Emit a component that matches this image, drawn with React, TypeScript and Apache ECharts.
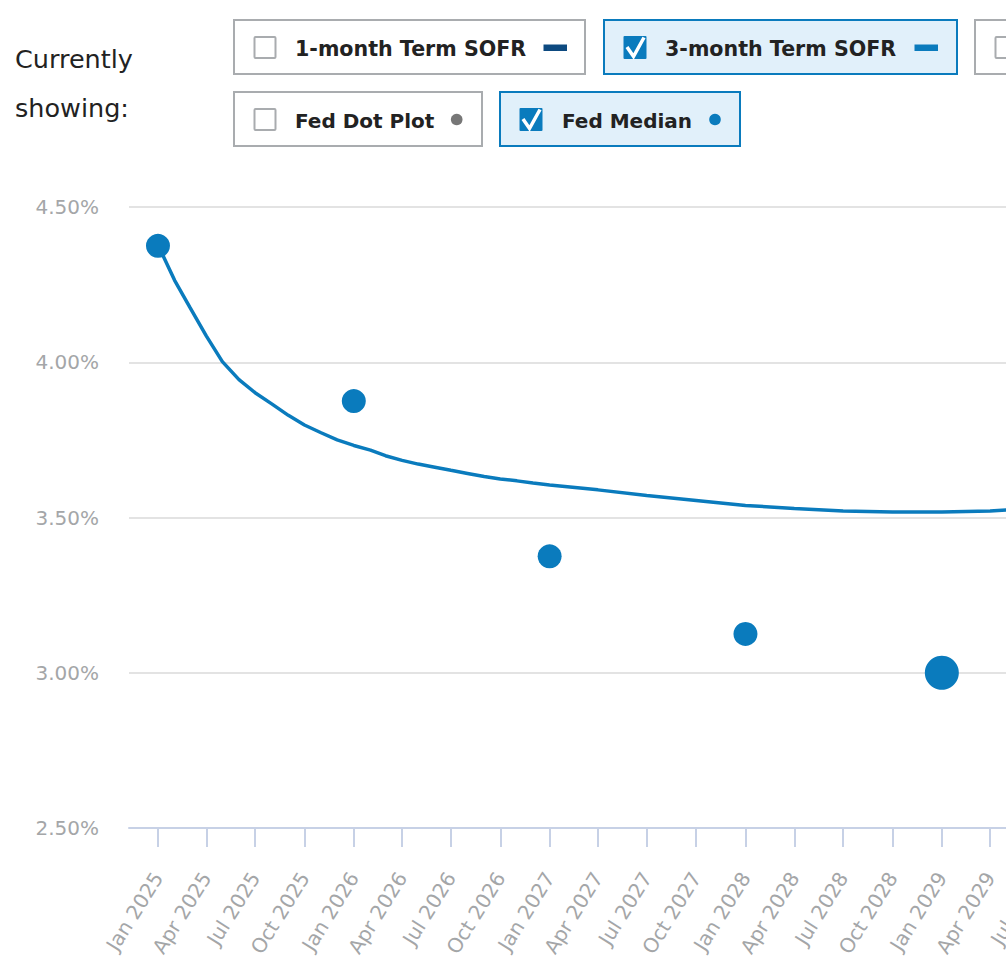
import React, { useEffect, useRef } from 'react';
import * as echarts from 'echarts';

// 3-month Term SOFR forward curve (percent), first of each month
const sofrMonths = [
  '2025-01', '2025-02', '2025-03', '2025-04', '2025-05', '2025-06', '2025-07', '2025-08',
  '2025-09', '2025-10', '2025-11', '2025-12', '2026-01', '2026-02', '2026-03', '2026-04',
  '2026-05', '2026-06', '2026-07', '2026-08', '2026-09', '2026-10', '2026-11', '2026-12',
  '2027-01', '2027-04', '2027-07', '2027-10', '2028-01', '2028-04', '2028-07', '2028-10',
  '2029-01', '2029-04', '2029-05', '2029-07',
];
const sofr3m = [
  4.378, 4.264, 4.178, 4.085, 4.002, 3.944, 3.902, 3.866,
  3.829, 3.798, 3.773, 3.750, 3.732, 3.717, 3.699, 3.684,
  3.672, 3.662, 3.652, 3.642, 3.632, 3.624, 3.618, 3.611,
  3.605, 3.589, 3.571, 3.555, 3.539, 3.529, 3.521, 3.518,
  3.518, 3.521, 3.524, 3.530,
];

// Fed median projections (percent)
const medianMonths = ['2025-01', '2026-01', '2027-01', '2028-01', '2029-01'];
const medianLabels = ['Current', '2025', '2026', '2027', 'Longer run'];
const fedMedian = [4.375, 3.875, 3.375, 3.125, 3.0];

// x-axis tick labels (quarter starts)
const tickMonths = [
  '2025-01', '2025-04', '2025-07', '2025-10', '2026-01', '2026-04', '2026-07', '2026-10',
  '2027-01', '2027-04', '2027-07', '2027-10', '2028-01', '2028-04', '2028-07', '2028-10',
  '2029-01', '2029-04', '2029-07',
];
const monthNames = ['Jan', 'Feb', 'Mar', 'Apr', 'May', 'Jun', 'Jul', 'Aug', 'Sep', 'Oct', 'Nov', 'Dec'];

// axis ranges
const xStart = '2024-11-08';
const xEnd = '2029-10-01';
const yMin = 2.5;
const yMax = 4.5;
const yStep = 0.5;

const legendRow1 = [
  { text: '1-month Term SOFR', checked: false, kind: 'dash', color: '#0d4a80' },
  { text: '3-month Term SOFR', checked: true, kind: 'dash', color: '#0a7bbd' },
];
const legendRow2 = [
  { text: 'Fed Dot Plot', checked: false, kind: 'dot', color: '#777777' },
  { text: 'Fed Median', checked: true, kind: 'dot', color: '#0a7bbd' },
];

const DAY = 86400000;
const EPOCH = Date.UTC(2025, 0, 1);
// convert 'YYYY-MM' or 'YYYY-MM-DD' to days since 1 Jan 2025
const toDay = (s: string) => {
  const p = s.split('-').map(Number);
  return Math.round((Date.UTC(p[0], p[1] - 1, p[2] || 1) - EPOCH) / DAY);
};
const dayLabel = (d: number) => {
  const dt = new Date(EPOCH + Math.round(d) * DAY);
  return monthNames[dt.getUTCMonth()] + ' ' + dt.getUTCFullYear();
};

const BLUE = '#0a7bbd';
const FONT = 'DejaVu Sans';

function legendBox(x: number, y: number, w: number, item: any, textX: number, markX: number, fs: number): any[] {
  const h = 54;
  const els: any[] = [];
  els.push({
    type: 'rect',
    shape: { x, y, width: w, height: h },
    style: {
      fill: item.checked ? '#e1f0fa' : '#ffffff',
      stroke: item.checked ? BLUE : '#a9acaf',
      lineWidth: 2,
    },
  });
  const cbY = y + 16;
  if (item.checked) {
    els.push({
      type: 'rect',
      shape: { x: x + 19.5, y: cbY, width: 23, height: 23, r: 1 },
      style: { fill: BLUE },
    });
    els.push({
      type: 'polyline',
      shape: {
        points: [
          [x + 23, cbY + 11],
          [x + 29.5, cbY + 20.5],
          [x + 40, cbY + 1.5],
        ],
      },
      style: { stroke: '#ffffff', lineWidth: 3.5, fill: 'none' },
    });
  } else {
    els.push({
      type: 'rect',
      shape: { x: x + 20.5, y: cbY + 1, width: 21, height: 21, r: 1 },
      style: { fill: '#ffffff', stroke: '#a9acaf', lineWidth: 2 },
    });
  }
  if (item.text) {
    els.push({
      type: 'text',
      x: textX,
      y: y + 29,
      style: {
        text: item.text,
        fontFamily: FONT,
        fontWeight: 'bold',
        fontSize: fs,
        fill: '#222222',
        verticalAlign: 'middle',
      },
    });
  }
  if (item.kind === 'dash') {
    els.push({
      type: 'rect',
      shape: { x: markX, y: y + 24.5, width: 23.5, height: 6.5 },
      style: { fill: item.color },
    });
  } else if (item.kind === 'dot') {
    els.push({
      type: 'circle',
      shape: { cx: markX, cy: y + 27.5, r: 5.8 },
      style: { fill: item.color },
    });
  }
  return els;
}

export default function App() {
  const ref = useRef<HTMLDivElement>(null);

  useEffect(() => {
    if (!ref.current) return;
    const chart = echarts.init(ref.current, undefined, { renderer: 'svg' });

    const tickValues = tickMonths.map(toDay);
    const graphicEls: any[] = [
      {
        type: 'text',
        x: 15,
        y: 59,
        style: { text: 'Currently', fontFamily: FONT, fontSize: 25.5, fill: '#222222', verticalAlign: 'middle' },
      },
      {
        type: 'text',
        x: 15,
        y: 108,
        style: { text: 'showing:', fontFamily: FONT, fontSize: 25.5, fill: '#222222', verticalAlign: 'middle' },
      },
      ...legendBox(234, 20, 351, legendRow1[0], 295, 543.5, 20.6),
      ...legendBox(604, 20, 353, legendRow1[1], 665, 914.5, 20.6),
      ...legendBox(975, 20, 330, { text: '', checked: false, kind: 'none', color: '' }, 0, 0, 20),
      ...legendBox(234, 92, 248, legendRow2[0], 295, 456.7, 20),
      ...legendBox(500, 92, 240, legendRow2[1], 562, 715, 20),
    ];

    chart.setOption({
      animation: false,
      grid: { left: 129, right: 11.7, top: 207, bottom: 140, containLabel: false },
      xAxis: {
        type: 'value',
        min: toDay(xStart),
        max: toDay(xEnd),
        axisLine: { show: true, onZero: false, lineStyle: { color: '#c7d1e6', width: 2 } },
        axisTick: {
          show: true,
          customValues: tickValues,
          length: 19,
          lineStyle: { color: '#c7d1e6', width: 2 },
        },
        axisLabel: {
          customValues: tickValues,
          rotate: 58,
          margin: 46,
          color: '#a4a6a8',
          fontFamily: FONT,
          fontSize: 20,
          hideOverlap: false,
          showMinLabel: true,
          showMaxLabel: true,
          formatter: (v: number) => dayLabel(v),
        },
        splitLine: { show: false },
      },
      yAxis: {
        type: 'value',
        min: yMin,
        max: yMax,
        interval: yStep,
        axisLine: { show: false },
        axisTick: { show: false },
        axisLabel: {
          formatter: (v: number) => v.toFixed(2) + '%',
          color: '#a4a6a8',
          fontFamily: FONT,
          fontSize: 20,
          margin: 30,
        },
        splitLine: { lineStyle: { color: '#e3e3e3', width: 2 } },
      },
      series: [
        {
          name: '3-month Term SOFR',
          type: 'line',
          data: sofrMonths.map((m, i) => [toDay(m), sofr3m[i]]),
          showSymbol: false,
          symbol: 'none',
          lineStyle: { color: BLUE, width: 3.5 },
          z: 2,
        },
        {
          name: 'Fed Median',
          type: 'scatter',
          data: medianMonths.map((m, i) => ({ value: [toDay(m), fedMedian[i]], name: medianLabels[i] })),
          symbolSize: (_v: any, p: any) => (medianLabels[p.dataIndex] === 'Longer run' ? 34 : 24),
          itemStyle: { color: BLUE, opacity: 1 },
          z: 3,
        },
      ],
      graphic: { elements: graphicEls },
    });

    return () => chart.dispose();
  }, []);

  return (
    <div style={{ position: 'fixed', left: 0, top: 0, width: 1006, height: 968, overflow: 'hidden', background: '#ffffff' }}>
      <div ref={ref} style={{ width: 1100, height: 968 }} />
    </div>
  );
}
